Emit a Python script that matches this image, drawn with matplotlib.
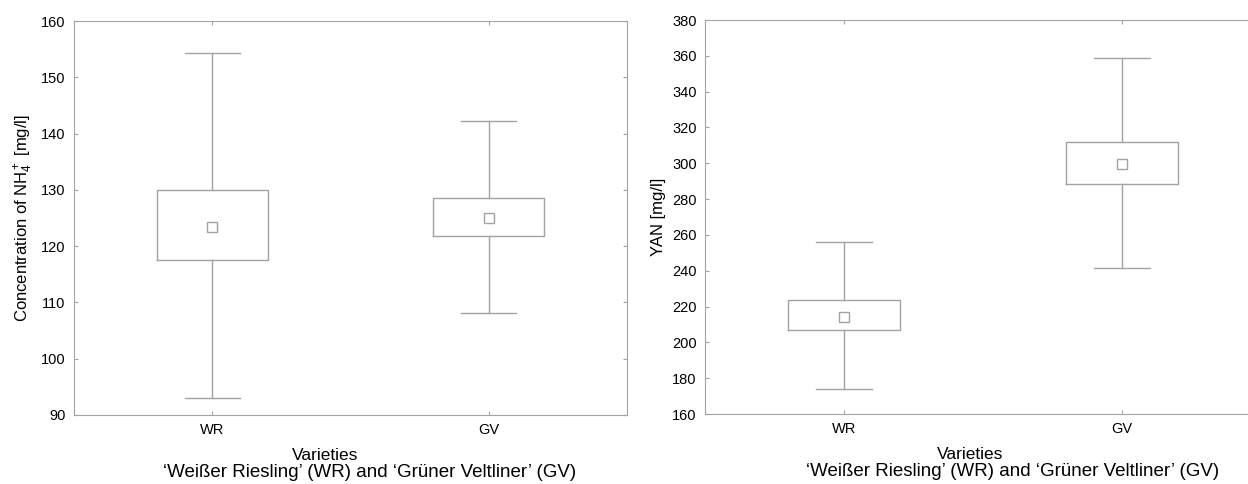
import matplotlib
matplotlib.use("Agg")
import matplotlib.pyplot as plt

plt.rcParams["font.family"] = ["Liberation Sans", "DejaVu Sans"]
plt.rcParams["mathtext.fontset"] = "custom"
plt.rcParams["mathtext.rm"] = "Liberation Sans"
plt.rcParams["mathtext.it"] = "Liberation Sans:italic"

# data
varieties = ["WR", "GV"]

# NH4+ concentration [mg/l]
nh4_whislo = [93.1, 108.2]
nh4_q1 = [117.5, 121.8]
nh4_mean = [123.4, 125.0]
nh4_q3 = [129.9, 128.6]
nh4_whishi = [154.4, 142.3]

# YAN [mg/l]
yan_whislo = [174.1, 241.5]
yan_q1 = [206.9, 288.3]
yan_mean = [214.0, 299.8]
yan_q3 = [223.5, 311.9]
yan_whishi = [256.2, 358.6]

xlabel_top = "Varieties"
xlabel_bottom = "\u2018Wei\u00dfer Riesling\u2019 (WR) and \u2018Gr\u00fcner Veltliner\u2019 (GV)"
gray = "#a3a3a3"


def make_stats(lo, q1, mean, q3, hi):
    stats = []
    for i in range(len(varieties)):
        stats.append({"whislo": lo[i], "q1": q1[i], "med": mean[i], "mean": mean[i],
                      "q3": q3[i], "whishi": hi[i], "fliers": [], "label": varieties[i]})
    return stats


def draw_panel(ax, stats, ylim, yticks, ylabel, xl_pos):
    line = dict(color=gray, linewidth=1.0)
    ax.bxp(stats, positions=[1, 2], widths=0.4, capwidths=[0.2, 0.2],
           showmeans=True, showfliers=False,
           boxprops=line, whiskerprops=line, capprops=line,
           medianprops=dict(linewidth=0),
           meanprops=dict(marker="s", markerfacecolor="white", markeredgecolor=gray,
                          markersize=7, markeredgewidth=1.0))
    ax.set_xlim(0.5, 2.5)
    ax.set_ylim(*ylim)
    ax.set_yticks(yticks)
    ax.set_xticks([1, 2])
    ax.set_xticklabels(varieties)
    for sp in ax.spines.values():
        sp.set_color(gray)
    ax.tick_params(direction="in", length=3, color=gray, labelsize=10.5,
                   top=True, right=True, pad=6)
    ax.tick_params(axis="x", pad=6)
    ax.set_ylabel(ylabel, fontsize=12)
    # two-line x label, lines sit slightly off-centre like the reference
    ax.text(xl_pos[0], -0.115, xlabel_top, transform=ax.transAxes,
            ha="center", va="baseline", fontsize=12.5)
    ax.text(xl_pos[1], -0.158, xlabel_bottom, transform=ax.transAxes,
            ha="center", va="baseline", fontsize=13.5)


fig = plt.figure(figsize=(12.48, 4.84), dpi=100)
ax1 = fig.add_axes([0.0593, 0.1426, 0.4431, 0.8140])
ax2 = fig.add_axes([0.5649, 0.1446, 0.4455, 0.8140])

draw_panel(ax1, make_stats(nh4_whislo, nh4_q1, nh4_mean, nh4_q3, nh4_whishi),
           (90, 160), range(90, 161, 10), "Concentration of NH$_4^+$ [mg/l]",
           (0.454, 0.535))
draw_panel(ax2, make_stats(yan_whislo, yan_q1, yan_mean, yan_q3, yan_whishi),
           (160, 380), range(160, 381, 20), "YAN [mg/l]",
           (0.477, 0.554))

fig.savefig("out.png", dpi=100)
